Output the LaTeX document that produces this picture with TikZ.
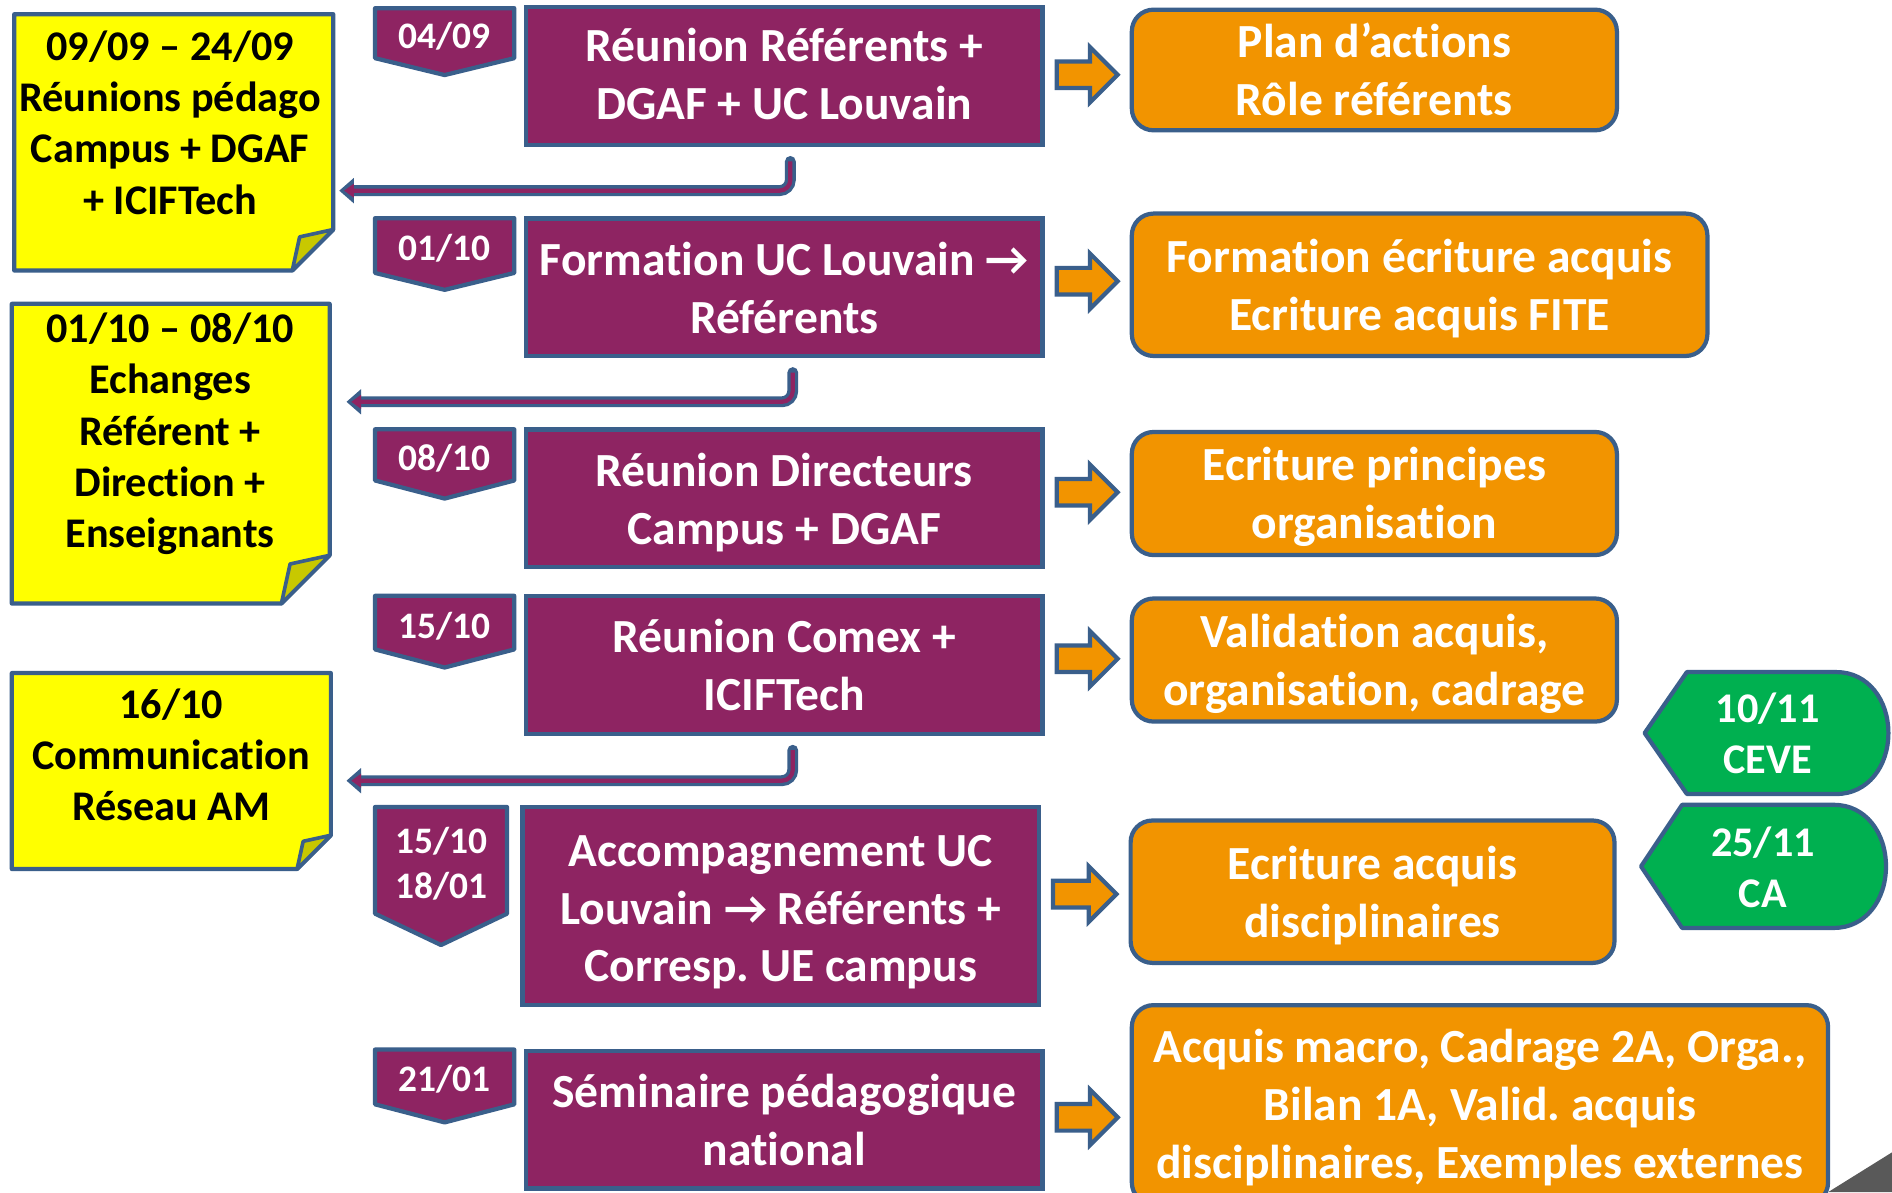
\documentclass[tikz,border=0pt]{standalone}
\usepackage{fontspec}
\setmainfont{Carlito}[Ligatures=CommonOff]
\usetikzlibrary{calc,backgrounds}
\definecolor{bdr}{HTML}{3A5F8B}
\definecolor{plum}{HTML}{8E2462}
\definecolor{orng}{HTML}{F29400}
\definecolor{grn}{HTML}{00B050}
\definecolor{yel}{HTML}{FFFF00}
\definecolor{foldc}{HTML}{C8C800}
\definecolor{dgray}{HTML}{595959}

\tikzset{
 bigtxt/.style={font=\fontsize{39.4}{48}\selectfont\bfseries, text=white, align=center, inner sep=0pt},
 purplebox/.style={draw=bdr, fill=plum, line width=3.5pt, inner sep=0pt, minimum width=428pt, minimum height=114pt},
 orangebox/.style={draw=bdr, fill=orng, line width=3.5pt, rounded corners=18pt, inner sep=0pt},
 notebox/.style={inner sep=0pt},
 notetext/.style={font=\fontsize{35}{42.5}\selectfont\bfseries, text=black, align=center, inner sep=0pt},
 datebox/.style={inner sep=0pt},
 datetext/.style={font=\fontsize{31}{37}\selectfont\bfseries, text=white, align=center, inner sep=0pt},
 greentext/.style={font=\fontsize{35}{42}\selectfont\bfseries, text=white, align=center, inner sep=0pt},
 shapeline/.style={draw=bdr, line width=3.5pt, line join=round},
 orarrow/.style={fill=orng, draw=bdr, line width=3.5pt, line join=miter},
}

\newcommand\blockarr[3]{%
 \draw[orarrow] let \p1=(#1.east), \p2=(#2.west) in
 (\x1+10pt,-#3pt+11pt) -- (\x2-33pt,-#3pt+11pt) -- (\x2-33pt,-#3pt+23pt) -- (\x2-10pt,-#3pt)
 -- (\x2-33pt,-#3pt-23pt) -- (\x2-33pt,-#3pt-11pt) -- (\x1+10pt,-#3pt-11pt) -- cycle;}

\newcommand\bentarrow[2]{%
 \draw[line width=9pt, bdr, line cap=round, rounded corners=9pt] (#1) |- ([xshift=10pt]#2);
 \fill[bdr] (#2) -- ++(12,-10.5) -- ++(0,21) -- cycle;
 \draw[line width=3.5pt, plum, rounded corners=9pt] (#1) |- ([xshift=11pt]#2);
 \fill[plum] ([xshift=4pt]#2) -- ++(8,-5.8) -- ++(0,11.6) -- cycle;}

\begin{document}
\frenchspacing
\begin{tikzpicture}[x=1pt,y=-1pt]
\useasboundingbox (0,0) rectangle (1568,988);

% ---------- purple boxes ----------
\node[purplebox] (p1) at (650,63) {};
\node[purplebox] (p2) at (650,238) {};
\node[purplebox] (p3) at (650,413) {};
\node[purplebox] (p4) at (650,551) {};
\node[purplebox, minimum height=164pt] (p5) at (647,751) {};
\node[purplebox] (p6) at (650,928) {};
\node[bigtxt] (p1t) at (650,61.5) {Réunion Référents +\\DGAF + UC Louvain};
\node[bigtxt] (p2t) at (650,239) {Formation UC Louvain →\\Référents};
\node[bigtxt] (p3t) at (650,416.5) {Réunion Directeurs\\Campus + DGAF};
\node[bigtxt] (p4t) at (650,551) {Réunion Comex +\\ICIFTech};
\node[bigtxt] (p5t) at (647,756) {Accompagnement UC\\Louvain → Référents +\\Corresp. UE campus};
\node[bigtxt] (p6t) at (650,928.5) {Séminaire pédagogique\\national};

% ---------- orange boxes ----------
\node[orangebox, minimum width=402pt, minimum height=100pt] (o1) at (1139,58) {};
\node[orangebox, minimum width=477pt, minimum height=118pt] (o2) at (1176.5,236) {};
\node[orangebox, minimum width=402pt, minimum height=102pt] (o3) at (1139,409) {};
\node[orangebox, minimum width=402pt, minimum height=102pt] (o4) at (1139,547) {};
\node[orangebox, minimum width=401pt, minimum height=118pt] (o5) at (1137.5,739) {};
\node[orangebox, minimum width=577pt, minimum height=165pt] (o6) at (1226.5,915.5) {};
\node[bigtxt] (o1t) at (1139,57.5) {Plan d’actions\\Rôle référents};
\node[bigtxt] (o2t) at (1176.5,239) {Formation écriture acquis\\Ecriture acquis FITE};
\node[bigtxt] (o3t) at (1139,411.5) {Ecriture principes\\organisation};
\node[bigtxt] (o4t) at (1139,550) {Validation acquis,\\organisation, cadrage};
\node[bigtxt] (o5t) at (1137.5,742.5) {Ecriture acquis\\disciplinaires};
\node[bigtxt] (o6t) at (1226.5,918) {Acquis macro, Cadrage 2A, Orga.,\\Bilan 1A, Valid. acquis\\disciplinaires, Exemples externes};

% ---------- orange block arrows ----------
\blockarr{p1}{o1}{62}
\blockarr{p2}{o2}{233}
\blockarr{p3}{o3}{408}
\blockarr{p4}{o4}{546}
\blockarr{p5}{o5}{741}
\blockarr{p6}{o6}{926}

% ---------- date chevrons ----------
\node[datebox, minimum width=115pt, minimum height=41pt] (d1) at (368.5,27.5) {};
\node[datebox, minimum width=115pt, minimum height=45pt] (d2) at (368.5,203.5) {};
\node[datebox, minimum width=115pt, minimum height=42pt] (d3) at (368.5,377) {};
\node[datebox, minimum width=115pt, minimum height=44pt] (d4) at (368.5,516) {};
\node[datebox, minimum width=109pt, minimum height=88pt] (d5) at (365.5,713) {};
\node[datebox, minimum width=115pt, minimum height=45pt] (d6) at (368.5,892.5) {};
\node[datetext] (d1t) at (368.5,30) {04/09};
\node[datetext] (d2t) at (368.5,206) {01/10};
\node[datetext] (d3t) at (368.5,379.5) {08/10};
\node[datetext] (d4t) at (368.5,519) {15/10};
\node[datetext] (d5t) at (365.5,716) {15/10\\18/01};
\node[datetext] (d6t) at (368.5,894.5) {21/01};

% ---------- yellow notes ----------
\node[notebox, minimum width=264pt, minimum height=212pt] (n1) at (144,118) {};
\node[notetext] (n1t) at (141,101.5) {09/09 – 24/09\\Réunions pédago\\Campus + DGAF\\+ ICIFTech};
\node[notebox, minimum width=263pt, minimum height=248pt] (n2) at (141.5,376) {};
\node[notetext] (n2t) at (141,359.5) {01/10 – 08/10\\Echanges\\Référent +\\Direction +\\Enseignants};
\node[notebox, minimum width=264pt, minimum height=162pt] (n3) at (142,639) {};
\node[notetext] (n3t) at (142,625.5) {16/10\\Communication\\Réseau AM};

% ---------- green tags ----------
\node[greentext] (g1) at (1465,608) {10/11\\CEVE};
\node[greentext] (g2) at (1461,719) {25/11\\CA};

% ---------- shapes behind texts ----------
\begin{scope}[on background layer]
 \fill[white] (0,0) rectangle (1568,988);
 % chevrons
 \foreach \d/\t in {d1/14,d2/14,d3/15,d4/15,d5/26,d6/15}{
  \path[shapeline, fill=plum] (\d.north west) -- (\d.north east) -- (\d.south east)
   -- ($(\d.south)+(0,\t)$) -- (\d.south west) -- cycle;
 }
 % notes
 \foreach \n/\c in {n1/34,n2/40,n3/28}{
  \path[shapeline, fill=yel] (\n.north west) -- (\n.north east) -- ([yshift=\c pt]\n.south east)
   -- ([xshift=-\c pt]\n.south east) -- (\n.south west) -- cycle;
  \path[shapeline, fill=foldc, line width=3pt] ([yshift=\c pt]\n.south east)
   -- ([xshift=-0.82*\c pt, yshift=0.82*\c pt]\n.south east)
   -- ([xshift=-\c pt]\n.south east) -- cycle;
 }
 % green tags
 \path[shapeline, fill=grn] (1363,607.5) -- (1398,557) -- (1522,557)
   .. controls (1548,557) and (1565,580) .. (1565,607.5)
   .. controls (1565,635) and (1548,658) .. (1522,658) -- (1398,658) -- cycle;
 \path[shapeline, fill=grn] (1360,718) -- (1394,667) -- (1520,667)
   .. controls (1546,667) and (1563,690) .. (1563,718)
   .. controls (1563,746) and (1546,769) .. (1520,769) -- (1394,769) -- cycle;
\end{scope}

% ---------- bent connectors to notes ----------
\coordinate (s1) at ([xshift=5pt,yshift=-12pt]p1.south);
\coordinate (h1) at (n1.east |- 0,158);
\coordinate (t1) at ([xshift=5pt]h1);
\bentarrow{s1}{t1}
\coordinate (s2) at ([xshift=7pt,yshift=-12pt]p2.south);
\coordinate (h2) at (n2.east |- 0,333);
\coordinate (t2) at ([xshift=14pt]h2);
\bentarrow{s2}{t2}
\coordinate (s3) at ([xshift=7pt,yshift=-12pt]p4.south);
\coordinate (h3) at (n3.east |- 0,647);
\coordinate (t3) at ([xshift=13pt]h3);
\bentarrow{s3}{t3}

% ---------- corner triangle ----------
\fill[dgray] (1515,988) -- (1568,955) -- (1568,988) -- cycle;
\end{tikzpicture}
\end{document}
